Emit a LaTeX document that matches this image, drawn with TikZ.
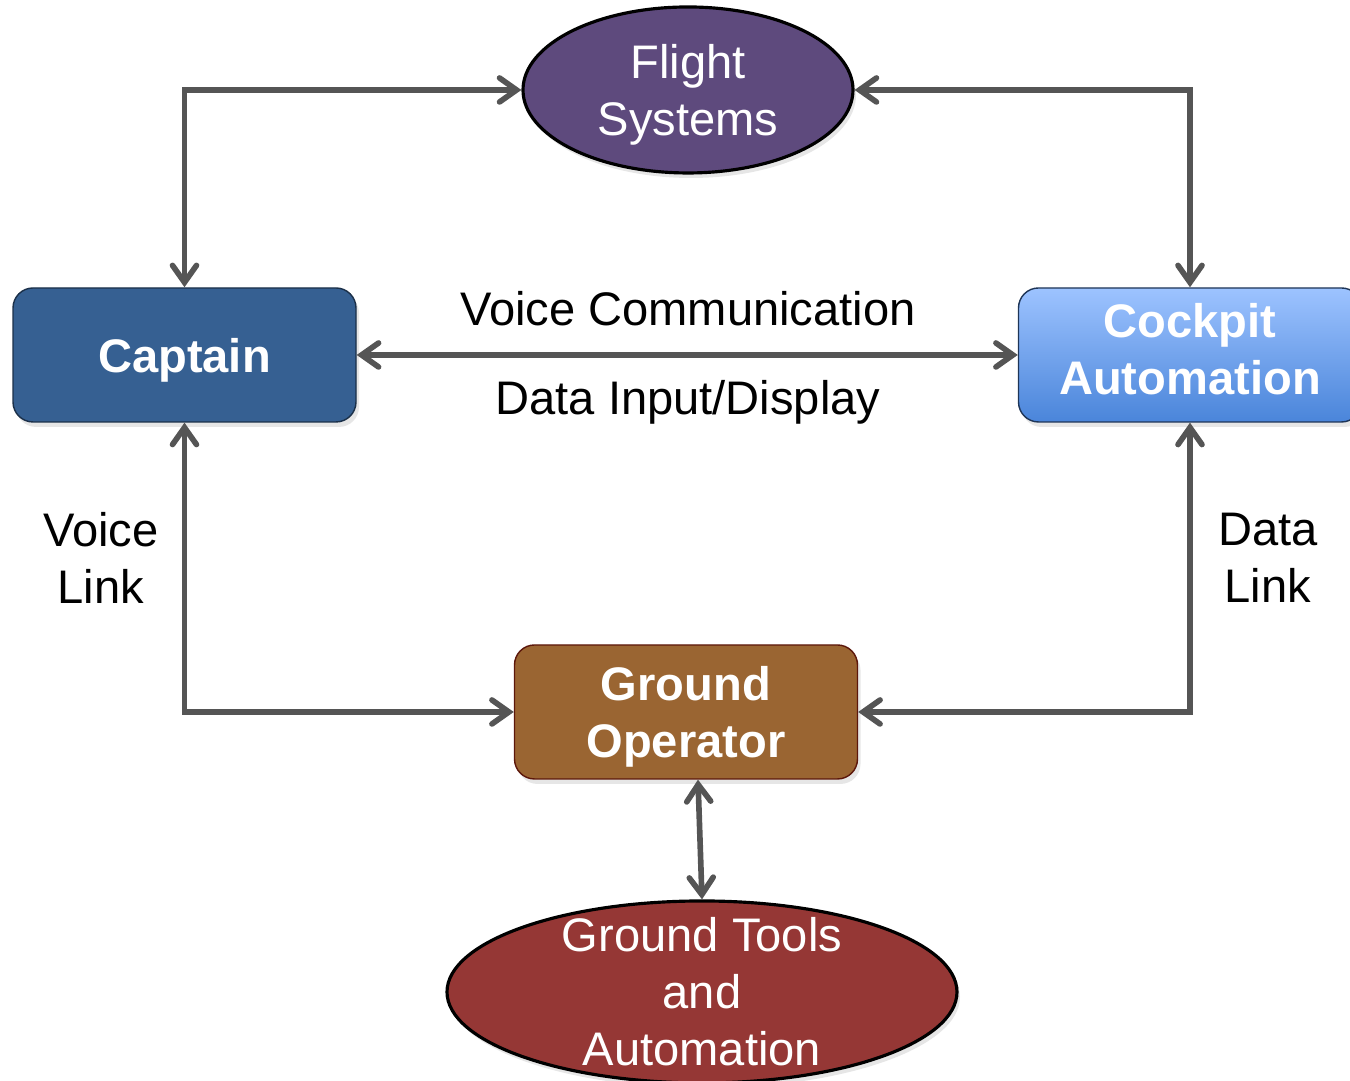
\documentclass[tikz,border=0pt]{standalone}
\usepackage{fontspec}
\setmainfont{Liberation Sans}
\usepackage{xcolor}
\usepackage{tikz}
\usetikzlibrary{shapes.geometric, arrows.meta, positioning, calc, shadows}

\definecolor{fsPurple}{HTML}{5E4A7D}
\definecolor{capBlue}{HTML}{366092}
\definecolor{cockTop}{HTML}{9DC3FF}
\definecolor{cockBot}{HTML}{4A85DA}
\definecolor{goBrown}{HTML}{9A6532}
\definecolor{gtRed}{HTML}{953735}
\definecolor{linkGray}{HTML}{555555}

\begin{document}
\begin{tikzpicture}
\tikzstyle{box} = [rectangle, rounded corners=0.2cm, minimum width=3.43cm, minimum height=1.34cm, text centered, align=center, text=white, font=\fontsize{13.4}{16.2}\selectfont\bfseries, drop shadow={opacity=0.2, shadow xshift=0.03cm, shadow yshift=-0.05cm}]
\tikzstyle{blob} = [ellipse, draw=black, line width=0.9pt, text centered, align=center, text=white, inner sep=0pt, font=\fontsize{13.4}{16.2}\selectfont, drop shadow={opacity=0.2, shadow xshift=0.03cm, shadow yshift=-0.05cm}]
\tikzstyle{label} = [align=center, font=\fontsize{13.4}{16.2}\selectfont]
\tikzstyle{link} = [draw=linkGray, line width=1.6pt, {Straight Barb[length=0.17cm, width=0.24cm, line cap=round]}-{Straight Barb[length=0.17cm, width=0.24cm, line cap=round]}]

\useasboundingbox (0,0) rectangle (13.5,10.81);

\node[blob, fill=fsPurple, minimum width=3.30cm, minimum height=1.66cm, text depth=0pt] (flight) at (6.88,9.91) {Flight\\Systems};
\node[box, fill=capBlue, draw=capBlue!50!black, text depth=0pt] (captain) at (1.845,7.26) {Captain};
\node[box, top color=cockTop, bottom color=cockBot, draw=cockBot!40!black, text depth=0.12cm] (cockpit) at (11.90,7.26) {Cockpit\\Automation};
\node[box, fill=goBrown, draw=goBrown!50!red!45!black, text depth=0pt] (ground) at (6.86,3.69) {Ground\\Operator};
\node[blob, fill=gtRed, minimum width=5.10cm, minimum height=1.82cm, inner ysep=-0.2cm] (tools) at (7.02,0.89) {Ground Tools\\and\\Automation};

\node[label, anchor=base] (voicecomm) at (6.88,7.55) {Voice Communication};
\node[label, anchor=base] (datainput) at (6.88,6.66) {Data Input/Display};
\node[label] (voicelink) at (1.01,5.23) {Voice\\Link};
\node[label] (datalink) at (12.68,5.23) {Data\\Link};

\coordinate (goout) at ($(ground.south)+(0.12,0)$);

\draw[link] (captain.north) |- (flight.west);
\draw[link] (cockpit.north) |- (flight.east);
\draw[link] (captain.east) -- (cockpit.west);
\draw[link] (captain.south) |- (ground.west);
\draw[link] (cockpit.south) |- (ground.east);
\draw[link] (goout) -- (tools.north);
\end{tikzpicture}
\end{document}
